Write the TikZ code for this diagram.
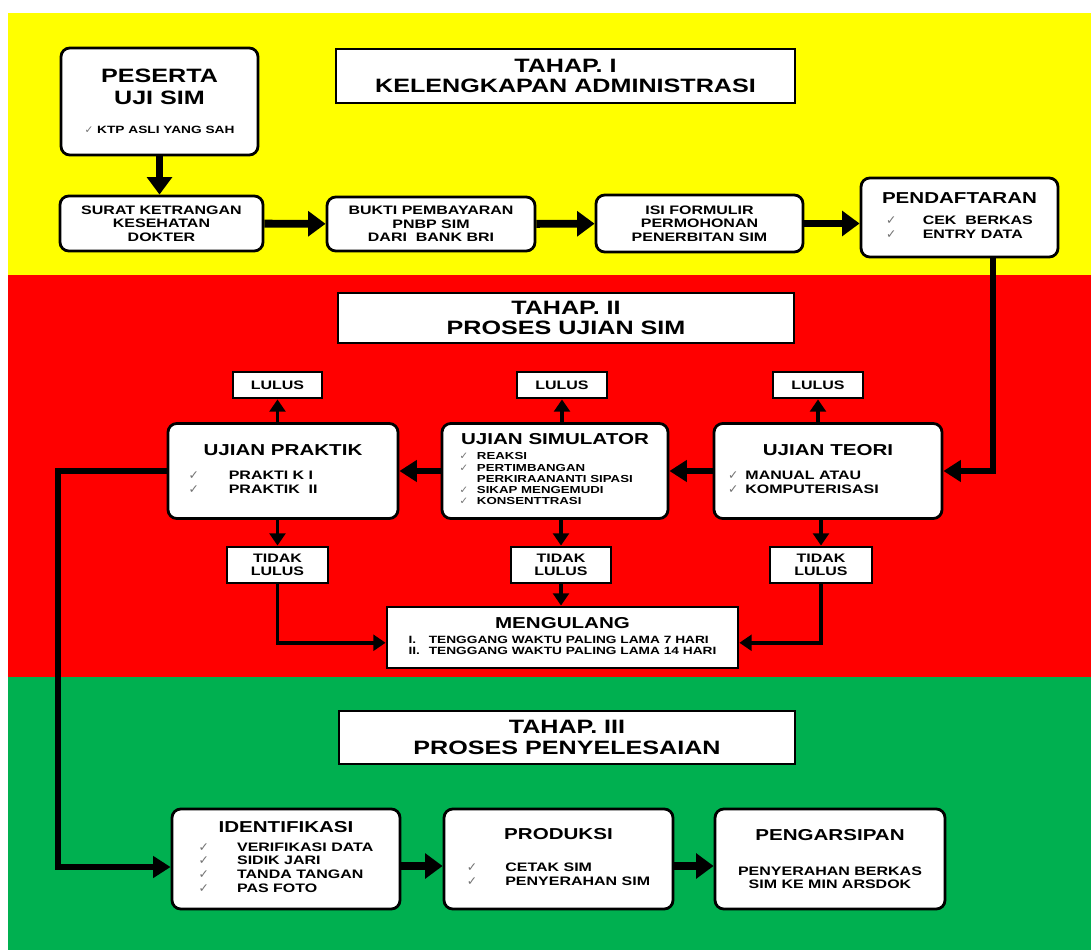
\documentclass[tikz,border=0pt]{standalone}
\usepackage{fontspec}
\setmainfont[FakeStretch=1.3]{Liberation Sans}
\newfontfamily\symfont{DejaVu Sans}
\usetikzlibrary{arrows.meta}
\definecolor{kuning}{HTML}{FFFF00}
\definecolor{merah}{HTML}{FF0000}
\definecolor{hijau}{HTML}{00B050}
\newcommand{\cekmark}{{\symfont\color{black!55}✓}}
\newcommand{\judul}[1]{{\fontsize{9}{10}\selectfont #1}}

\begin{document}
\begin{tikzpicture}[
  prosesbox/.style={
    rectangle,
    rounded corners=5pt,
    draw=black,
    line width=1.6pt,
    fill=white,
    align=center,
    inner sep=2pt,
    font=\fontsize{7}{7.8}\selectfont\bfseries
  },
  tahapbox/.style={
    rectangle,
    draw=black,
    line width=1.6pt,
    fill=white,
    align=center,
    font=\fontsize{11}{11.6}\selectfont\bfseries
  },
  hasilbox/.style={
    rectangle,
    draw=black,
    line width=1.6pt,
    fill=white,
    align=center,
    inner sep=1pt,
    font=\fontsize{7}{7.6}\selectfont\bfseries
  },
  panah/.style={-{Triangle[length=10pt,width=14pt]}, line width=4.5pt, black},
  panahtebal/.style={-{Triangle[length=10pt,width=12pt]}, line width=3.4pt, black},
  panahmerah/.style={-{Triangle[length=7pt,width=9pt]}, line width=2.2pt, black}
]
  % latar tiga tahap
  \useasboundingbox (0,0) rectangle (21.82,-19);
  \fill[kuning] (0.16,-0.26) rectangle (21.82,-5.5);
  \fill[merah] (0.16,-5.5) rectangle (21.82,-13.54);
  \fill[hijau] (0.16,-13.54) rectangle (21.82,-19);

  % tahap I
  \node[prosesbox, minimum width=3.94cm, minimum height=2.14cm, font=\fontsize{11}{12.5}\selectfont\bfseries] (peserta) at (3.19,-2.03)
    {PESERTA\\UJI SIM\\[4pt]{\fontsize{6}{7}\selectfont\cekmark\ KTP ASLI YANG SAH}};
  \node[tahapbox, minimum width=9.18cm, minimum height=1.08cm] (tahap1) at (11.31,-1.52) {TAHAP. I\\KELENGKAPAN ADMINISTRASI};
  \node[prosesbox, minimum width=4.06cm, minimum height=1.1cm] (surat) at (3.23,-4.47) {SURAT KETRANGAN\\KESEHATAN\\DOKTER};
  \node[prosesbox, minimum width=4.16cm, minimum height=1.08cm] (bukti) at (8.62,-4.48) {BUKTI PEMBAYARAN\\PNBP SIM\\DARI~ BANK BRI};
  \node[prosesbox, minimum width=4.14cm, minimum height=1.14cm] (formulir) at (13.99,-4.47) {ISI FORMULIR\\PERMOHONAN\\PENERBITAN SIM};
  \node[prosesbox, minimum width=3.94cm, minimum height=1.58cm] (daftar) at (19.19,-4.35)
    {\judul{PENDAFTARAN}\\[6pt]
     \begin{tabular}{@{}l@{\hspace{15pt}}l@{}}\cekmark & CEK~ BERKAS\\ \cekmark & ENTRY DATA\end{tabular}};

  \draw[panah] (peserta.south) -- (peserta.south |- surat.north);
  \draw[panah] (surat) -- (bukti);
  \draw[panah] (bukti) -- (formulir);
  \draw[panah] (formulir.east) -- (formulir.east -| daftar.west);

  % tahap II
  \node[tahapbox, minimum width=9.12cm, minimum height=1cm] (tahap2) at (11.32,-6.36) {TAHAP. II\\PROSES UJIAN SIM};
  \node[hasilbox, minimum width=1.78cm, minimum height=0.52cm] (lulus1) at (5.55,-7.7) {LULUS};
  \node[hasilbox, minimum width=1.8cm, minimum height=0.52cm] (lulus2) at (11.24,-7.7) {LULUS};
  \node[hasilbox, minimum width=1.8cm, minimum height=0.52cm] (lulus3) at (16.36,-7.7) {LULUS};

  \node[prosesbox, minimum width=4.6cm, minimum height=1.9cm] (praktik) at (5.66,-9.42)
    {\judul{UJIAN PRAKTIK}\\[7pt]
     \begin{tabular}{@{}l@{\hspace{17pt}}l@{\hspace{34pt}}}\cekmark & PRAKTI K I\\ \cekmark & PRAKTIK~ II\end{tabular}};
  \node[prosesbox, minimum width=4.52cm, minimum height=1.9cm] (simulator) at (11.1,-9.42)
    {\judul{UJIAN SIMULATOR}\\[3pt]
     {\fontsize{5.8}{6.4}\selectfont
     \begin{tabular}{@{}l@{\hspace{5pt}}l@{\hspace{10pt}}}\cekmark & REAKSI\\ \cekmark & PERTIMBANGAN\\ & PERKIRAANANTI SIPASI\\
       \cekmark & SIKAP MENGEMUDI\\ \cekmark & KONSENTTRASI\end{tabular}}};
  \node[prosesbox, minimum width=4.56cm, minimum height=1.9cm] (teori) at (16.56,-9.42)
    {\judul{UJIAN TEORI}\\[7pt]
     \begin{tabular}{@{}l@{\hspace{4pt}}l@{\hspace{28pt}}}\cekmark & MANUAL ATAU\\ \cekmark & KOMPUTERISASI\end{tabular}};

  \node[hasilbox, minimum width=2.02cm, minimum height=0.72cm] (tidak1) at (5.55,-11.3) {TIDAK\\LULUS};
  \node[hasilbox, minimum width=2cm, minimum height=0.72cm] (tidak2) at (11.22,-11.3) {TIDAK\\LULUS};
  \node[hasilbox, minimum width=2.04cm, minimum height=0.72cm] (tidak3) at (16.42,-11.3) {TIDAK\\LULUS};
  \node[hasilbox, minimum width=7.02cm, minimum height=1.22cm, font=\fontsize{6}{6.4}\selectfont\bfseries] (ulang) at (11.25,-12.75)
    {\judul{MENGULANG}\\[3pt]
     \begin{tabular}{@{}l@{\hspace{5pt}}l@{}}I. & TENGGANG WAKTU PALING LAMA 7 HARI\\ II. & TENGGANG WAKTU PALING LAMA 14 HARI\end{tabular}};

  \draw[panahtebal] ([xshift=0.67cm]daftar.south) |- (teori.east);
  \draw[panahtebal] (teori.west) -- (simulator.east);
  \draw[panahtebal] (simulator.west) -- (praktik.east);

  \draw[panahmerah] (praktik.north -| lulus1) -- (lulus1.south);
  \draw[panahmerah] (simulator.north -| lulus2) -- (lulus2.south);
  \draw[panahmerah] (teori.north -| lulus3) -- (lulus3.south);
  \draw[panahmerah] (praktik.south -| tidak1) -- (tidak1.north);
  \draw[panahmerah] (simulator.south -| tidak2) -- (tidak2.north);
  \draw[panahmerah] (teori.south -| tidak3) -- (tidak3.north);
  \draw[panahmerah] (tidak2.south) -- (tidak2.south |- ulang.north);
  \draw[panahmerah] (tidak1.south) |- ([yshift=-3pt]ulang.west);
  \draw[panahmerah] (tidak3.south) |- ([yshift=-3pt]ulang.east);

  % tahap III
  \node[tahapbox, minimum width=9.12cm, minimum height=1.06cm] (tahap3) at (11.34,-14.75) {TAHAP. III\\PROSES PENYELESAIAN};
  \node[prosesbox, minimum width=4.56cm, minimum height=2cm] (identifikasi) at (5.72,-17.18)
    {\judul{IDENTIFIKASI}\\[4pt]
     \begin{tabular}{@{}l@{\hspace{16pt}}l@{}}\cekmark & VERIFIKASI DATA\\ \cekmark & SIDIK JARI\\ \cekmark & TANDA TANGAN\\ \cekmark & PAS FOTO\end{tabular}};
  \node[prosesbox, minimum width=4.58cm, minimum height=2cm] (produksi) at (11.17,-17.18)
    {\judul{PRODUKSI}\\[12pt]
     \begin{tabular}{@{}l@{\hspace{16pt}}l@{}}\cekmark & CETAK SIM\\ \cekmark & PENYERAHAN SIM\end{tabular}};
  \node[prosesbox, minimum width=4.6cm, minimum height=2cm] (arsip) at (16.6,-17.18)
    {\judul{PENGARSIPAN}\\[12pt]PENYERAHAN BERKAS\\SIM KE MIN ARSDOK};

  \coordinate (belok) at (1.16,-17.34);
  \draw[panahtebal] (praktik.west) -| (belok) -- (belok -| identifikasi.west);
  \draw[panah] ([yshift=-0.14cm]identifikasi.east) -- ([yshift=-0.14cm]produksi.west);
  \draw[panah] ([yshift=-0.14cm]produksi.east) -- ([yshift=-0.14cm]arsip.west);
\end{tikzpicture}
\end{document}
